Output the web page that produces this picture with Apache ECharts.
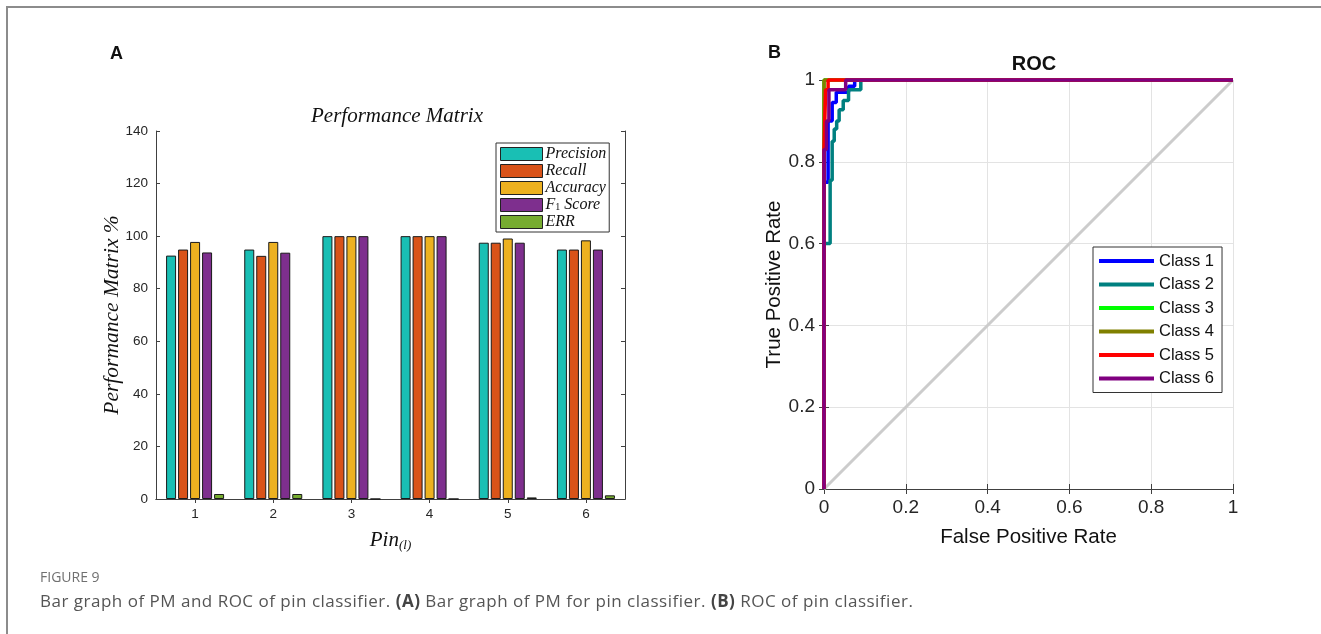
<!DOCTYPE html>
<html>
<head>
<meta charset="utf-8">
<script src="https://cdn.jsdelivr.net/npm/echarts@6/dist/echarts.min.js"></script>
<style>
 html, body { margin: 0; padding: 0; background: #fff; }
 #page { position: relative; width: 1321px; height: 634px; overflow: hidden; }
 #frame { position: absolute; left: 6px; top: 6px; width: 1400px; height: 700px; border-top: 2px solid #8c8c8c; border-left: 2px solid #8c8c8c; }
 #chart { position: absolute; left: 0; top: 0; width: 1321px; height: 634px; }
 .cap { position: absolute; left: 40px; font-family: 'Open Sans', 'Noto Sans', sans-serif; }
 #figno { top: 567px; font-size: 14px; color: #707070; }
 #captxt { top: 589px; font-size: 17px; color: #555; letter-spacing: 0.5px; }
 #captxt b { color: #444; }
</style>
</head>
<body>
<div id="page">
 <div id="frame"></div>
 <div id="chart"></div>
 <div class="cap" id="figno">FIGURE 9</div>
 <div class="cap" id="captxt">Bar graph of PM and ROC of pin classifier. <b>(A)</b> Bar graph of PM for pin classifier. <b>(B)</b> ROC of pin classifier.</div>
</div>
<script>
// bar chart data (A)
const pins = ['1', '2', '3', '4', '5', '6'];
const precision = [92.6, 94.9, 100, 100, 97.5, 94.9];
const recall = [94.9, 92.5, 100, 100, 97.5, 94.9];
const accuracy = [97.8, 97.8, 100, 100, 99.1, 98.4];
const f1Score = [93.8, 93.7, 100, 100, 97.5, 94.9];
const errRate = [1.9, 1.9, 0, 0, 0.6, 1.4];
const barTicks = [0, 20, 40, 60, 80, 100, 120, 140];

// ROC data (B), [fpr, tpr]
const class1Roc = [[0, 0], [0, 0.75], [0.01, 0.75], [0.01, 0.9], [0.02, 0.9], [0.02, 0.945], [0.03, 0.945], [0.03, 0.97], [0.06, 0.97], [0.06, 0.985], [0.075, 0.985], [0.075, 1], [1, 1]];
const class2Roc = [[0, 0], [0, 0.6], [0.015, 0.6], [0.015, 0.755], [0.02, 0.755], [0.02, 0.85], [0.025, 0.85], [0.025, 0.88], [0.031, 0.88], [0.031, 0.9], [0.037, 0.9], [0.037, 0.927], [0.047, 0.927], [0.047, 0.95], [0.06, 0.95], [0.06, 0.976], [0.09, 0.976], [0.09, 1], [1, 1]];
const class3Roc = [[0, 0], [0, 1], [1, 1]];
const class4Roc = [[0, 0], [0, 1], [1, 1]];
const class5Roc = [[0, 0], [0, 0.83], [0.004, 0.83], [0.004, 0.976], [0.01, 0.976], [0.01, 1], [1, 1]];
const class6Roc = [[0, 0], [0, 0.83], [0.006, 0.83], [0.006, 0.9], [0.012, 0.9], [0.012, 0.976], [0.053, 0.976], [0.053, 1], [1, 1]];
const chanceLine = [[0, 0], [1, 1]];
const rocTicks = [0, 0.2, 0.4, 0.6, 0.8, 1];

const barNames = ['Precision', 'Recall', 'Accuracy', 'F1 Score', 'ERR'];
const barValues = [precision, recall, accuracy, f1Score, errRate];
const barColors = ['#19bfb4', '#d95319', '#edb120', '#7e2f8e', '#77ac30'];

const rocNames = ['Class 1', 'Class 2', 'Class 3', 'Class 4', 'Class 5', 'Class 6'];
const rocValues = [class1Roc, class2Roc, class3Roc, class4Roc, class5Roc, class6Roc];
const rocColors = ['#0000ff', '#008080', '#00ff00', '#808000', '#ff0000', '#800080'];

const serifIt = { fontFamily: 'Liberation Serif', fontStyle: 'italic' };
const axisDark = '#404040';

const chart = echarts.init(document.getElementById('chart'), null, { renderer: 'canvas' });

// box axes: bottom/left carry labels, top/right only ticks
const boxLine = { show: true, lineStyle: { color: axisDark, width: 1 } };

const option = {
 animation: false,
 title: [
 { text: 'A', left: 105, top: 40, textStyle: { fontFamily: 'Liberation Sans', fontWeight: 'bold', fontSize: 18, color: '#111' } },
 { text: 'B', left: 763, top: 39, textStyle: { fontFamily: 'Liberation Sans', fontWeight: 'bold', fontSize: 18, color: '#111' } },
 { text: 'Performance Matrix', left: 392, top: 101, textAlign: 'center', textStyle: Object.assign({ fontSize: 21, fontWeight: 'normal', color: '#111' }, serifIt) },
 { text: 'ROC', left: 1029, top: 49, textAlign: 'center', textStyle: { fontFamily: 'Liberation Sans', fontWeight: 'bold', fontSize: 20, color: '#111' } },
 ],
 legend: [
 {
 data: barNames,
 orient: 'vertical',
 left: 496, top: 143,
 padding: [3, 3, 2, 4],
 itemWidth: 42, itemHeight: 13, itemGap: 1,
 icon: 'rect',
 borderColor: '#333', borderWidth: 1, backgroundColor: '#fff',
 itemStyle: { borderColor: '#222', borderWidth: 1 },
 formatter: name => name === 'F1 Score' ? '{i|F}{s|1}{i| Score}' : '{i|' + name + '}',
 textStyle: {
 color: '#111', padding: [0, 0, 0, -2], lineHeight: 14, height: 14,
 rich: {
 i: Object.assign({ fontSize: 16, color: '#111', lineHeight: 14 }, serifIt),
 s: { fontFamily: 'Liberation Serif', fontSize: 10, color: '#111', lineHeight: 10, verticalAlign: 'bottom' },
 },
 },
 },
 {
 data: rocNames,
 orient: 'vertical',
 left: 1093, top: 247,
 padding: [5, 8, 5, 6],
 itemWidth: 55, itemHeight: 4, itemGap: 5.5,
 icon: 'rect',
 borderColor: '#333', borderWidth: 1, backgroundColor: '#fff',
 textStyle: { fontFamily: 'Liberation Sans', fontSize: 16.5, color: '#111', lineHeight: 18, padding: [0, 0, 0, 0] },
 },
 ],
 grid: [
 { left: 156, top: 131, width: 469, height: 368, containLabel: false },
 { left: 824, top: 80, width: 409, height: 409, containLabel: false },
 ],
 xAxis: [
 {
 gridIndex: 0, type: 'category', data: pins, position: 'bottom',
 axisLine: boxLine,
 axisTick: { show: true, alignWithLabel: true, inside: true, length: 4, lineStyle: { color: axisDark } },
 axisLabel: { fontFamily: 'Liberation Sans', fontSize: 13.5, color: '#262626', margin: 8 },
 name: '{i|Pin}{s|(l)}', nameLocation: 'middle', nameGap: 29,
 nameTextStyle: {
 rich: {
 i: Object.assign({ fontSize: 21, color: '#111' }, serifIt),
 s: Object.assign({ fontSize: 13, color: '#111', verticalAlign: 'bottom', padding: [11, 0, 0, 0] }, serifIt),
 },
 },
 },
 {
 gridIndex: 0, type: 'category', data: pins, position: 'top',
 axisLine: boxLine,
 axisTick: { show: true, alignWithLabel: true, inside: true, length: 4, lineStyle: { color: axisDark } },
 axisLabel: { show: false },
 },
 {
 gridIndex: 1, type: 'value', min: 0, max: 1, interval: 0.2, position: 'bottom',
 axisLine: boxLine,
 axisTick: { show: true, inside: true, length: 5, lineStyle: { color: axisDark } },
 axisLabel: { fontFamily: 'Liberation Sans', fontSize: 19, color: '#262626', margin: 9, customValues: rocTicks },
 splitLine: { show: true, lineStyle: { color: '#e3e3e3', width: 1 } },
 name: 'False Positive Rate', nameLocation: 'middle', nameGap: 38,
 nameTextStyle: { fontFamily: 'Liberation Sans', fontSize: 20.5, color: '#111' },
 },
 {
 gridIndex: 1, type: 'value', min: 0, max: 1, interval: 0.2, position: 'top',
 axisLine: boxLine,
 axisTick: { show: true, inside: true, length: 5, lineStyle: { color: axisDark } },
 axisLabel: { show: false },
 splitLine: { show: false },
 },
 ],
 yAxis: [
 {
 gridIndex: 0, type: 'value', min: 0, max: 140, interval: 20, position: 'left',
 axisLine: boxLine,
 axisTick: { show: true, inside: true, length: 4, lineStyle: { color: axisDark } },
 axisLabel: { fontFamily: 'Liberation Sans', fontSize: 13.5, color: '#262626', margin: 8, customValues: barTicks },
 splitLine: { show: false },
 name: 'Performance Matrix %', nameLocation: 'middle', nameGap: 33, nameMoveOverlap: false,
 nameTextStyle: Object.assign({ fontSize: 21.5, color: '#111' }, serifIt),
 },
 {
 gridIndex: 0, type: 'value', min: 0, max: 140, interval: 20, position: 'right',
 axisLine: boxLine,
 axisTick: { show: true, inside: true, length: 4, lineStyle: { color: axisDark } },
 axisLabel: { show: false },
 splitLine: { show: false },
 },
 {
 gridIndex: 1, type: 'value', min: 0, max: 1, interval: 0.2, position: 'left',
 axisLine: boxLine,
 axisTick: { show: true, inside: true, length: 5, lineStyle: { color: axisDark } },
 axisLabel: { fontFamily: 'Liberation Sans', fontSize: 19, color: '#262626', margin: 9 },
 splitLine: { show: true, lineStyle: { color: '#e3e3e3', width: 1 } },
 name: 'True Positive Rate', nameLocation: 'middle', nameGap: 39,
 nameTextStyle: { fontFamily: 'Liberation Sans', fontSize: 20.5, color: '#111' },
 },
 {
 gridIndex: 1, type: 'value', min: 0, max: 1, interval: 0.2, position: 'right',
 axisLine: boxLine,
 axisTick: { show: true, inside: true, length: 5, lineStyle: { color: axisDark } },
 axisLabel: { show: false },
 splitLine: { show: false },
 },
 ],
 series: [],
};

// bars
barNames.forEach((name, i) => {
 option.series.push({
 name, type: 'bar', xAxisIndex: 0, yAxisIndex: 0,
 data: barValues[i],
 barWidth: 10, barGap: '20%',
 itemStyle: { color: barColors[i], borderColor: '#1a1a1a', borderWidth: 1 },
 });
});

// chance diagonal
option.series.push({
 name: 'chance', type: 'line', xAxisIndex: 2, yAxisIndex: 2,
 data: chanceLine, showSymbol: false, silent: true,
 lineStyle: { color: '#cccccc', width: 3 },
});

// ROC curves, drawn in order so Class 6 sits on top
rocNames.forEach((name, i) => {
 option.series.push({
 name, type: 'line', xAxisIndex: 2, yAxisIndex: 2,
 data: rocValues[i], showSymbol: false, clip: false,
 itemStyle: { color: rocColors[i] },
 lineStyle: { color: rocColors[i], width: 3.5 },
 z: 3 + i,
 });
});

chart.setOption(option);
</script>
</body>
</html>
